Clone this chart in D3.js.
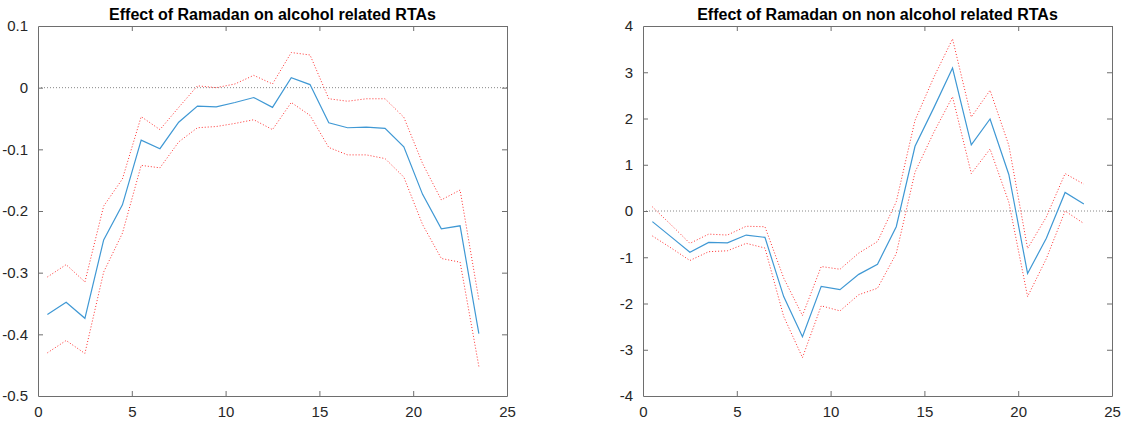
<!DOCTYPE html>
<html>
<head>
<meta charset="utf-8">
<script src="https://cdn.jsdelivr.net/npm/d3@7"></script>
<style>
  body { margin: 0; background: #fff; }
  text { font-family: "Liberation Sans", Arial, sans-serif; }
</style>
</head>
<body>
<div id="chart"></div>
<script>
// hours (bin centres)
var hours = d3.range(24).map(function (i) { return i + 0.5; });

// alcohol related RTAs
var alcMean = [-0.368, -0.348, -0.374, -0.247, -0.190, -0.085, -0.099, -0.056, -0.030, -0.031, -0.024, -0.016,
               -0.032, 0.016, 0.005, -0.057, -0.065, -0.064, -0.066, -0.096, -0.173, -0.229, -0.224, -0.399];
var alcUpper = [-0.307, -0.287, -0.315, -0.192, -0.148, -0.047, -0.068, -0.032, 0.003, 0.000, 0.006, 0.020,
                0.006, 0.057, 0.053, -0.018, -0.022, -0.018, -0.018, -0.048, -0.123, -0.182, -0.166, -0.344];
var alcLower = [-0.430, -0.410, -0.431, -0.299, -0.236, -0.126, -0.130, -0.088, -0.065, -0.063, -0.058, -0.052,
                -0.068, -0.024, -0.045, -0.097, -0.109, -0.109, -0.115, -0.145, -0.222, -0.277, -0.283, -0.452];

// non alcohol related RTAs
var nonMean = [-0.23, -0.56, -0.89, -0.68, -0.69, -0.52, -0.57, -1.85, -2.72, -1.63, -1.70, -1.37,
               -1.15, -0.34, 1.40, 2.23, 3.09, 1.43, 1.99, 0.79, -1.35, -0.59, 0.40, 0.15];
var nonUpper = [0.09, -0.30, -0.70, -0.50, -0.52, -0.33, -0.34, -1.45, -2.26, -1.20, -1.26, -0.91,
                -0.66, 0.20, 1.96, 2.89, 3.72, 2.03, 2.61, 1.42, -0.81, -0.13, 0.81, 0.58];
var nonLower = [-0.54, -0.80, -1.07, -0.88, -0.86, -0.70, -0.80, -2.28, -3.17, -2.05, -2.16, -1.81,
                -1.67, -0.92, 0.84, 1.70, 2.47, 0.81, 1.34, 0.19, -1.85, -1.03, 0.00, -0.27];

var xTicks = [0, 5, 10, 15, 20, 25];
var alcTicks = [-0.5, -0.4, -0.3, -0.2, -0.1, 0, 0.1];
var nonTicks = [-4, -3, -2, -1, 0, 1, 2, 3, 4];

var W = 1124, H = 424;
var svg = d3.select("#chart").append("svg").attr("width", W).attr("height", H);

var axisCol = "#6e6e6e";
var textCol = "#262626";
var tickLen = 5;

function panel(left, right, title, yDomain, yTicks, mean, upper, lower, fmt) {
  var top = 26, bottom = 396;
  var x = d3.scaleLinear().domain([0, 25]).range([left, right]);
  var y = d3.scaleLinear().domain(yDomain).range([bottom, top]);
  var g = svg.append("g");

  // zero reference line
  g.append("line")
    .attr("x1", x(0)).attr("x2", x(25))
    .attr("y1", y(0)).attr("y2", y(0))
    .attr("stroke", "#888").attr("stroke-width", 1)
    .attr("stroke-dasharray", "1,2");

  var line = d3.line()
    .x(function (d, i) { return x(hours[i]); })
    .y(function (d) { return y(d); });

  [upper, lower].forEach(function (s) {
    g.append("path").datum(s)
      .attr("d", line)
      .attr("fill", "none")
      .attr("stroke", "#ff3030")
      .attr("stroke-width", 1)
      .attr("stroke-dasharray", "1,2");
  });

  g.append("path").datum(mean)
    .attr("d", line)
    .attr("fill", "none")
    .attr("stroke", "#3f98d4")
    .attr("stroke-width", 1.2);

  // axes (box with inward ticks on all sides)
  var bottomAx = d3.axisBottom(x).tickValues(xTicks).tickSizeInner(-tickLen).tickSizeOuter(0).tickPadding(10);
  var topAx = d3.axisTop(x).tickValues(xTicks).tickSizeInner(-tickLen).tickSizeOuter(0).tickFormat("");
  var leftAx = d3.axisLeft(y).tickValues(yTicks).tickSizeInner(-tickLen).tickSizeOuter(0).tickPadding(10).tickFormat(fmt);
  var rightAx = d3.axisRight(y).tickValues(yTicks).tickSizeInner(-tickLen).tickSizeOuter(0).tickFormat("");

  var axes = [
    g.append("g").attr("transform", "translate(0," + bottom + ")").call(bottomAx),
    g.append("g").attr("transform", "translate(0," + top + ")").call(topAx),
    g.append("g").attr("transform", "translate(" + left + ",0)").call(leftAx),
    g.append("g").attr("transform", "translate(" + right + ",0)").call(rightAx)
  ];
  axes.forEach(function (a) {
    a.select(".domain").attr("stroke", axisCol);
    a.selectAll(".tick line").attr("stroke", axisCol);
    a.selectAll(".tick text")
      .attr("fill", textCol)
      .style("font-size", "15px")
      .style("font-family", "'Liberation Sans', Arial, sans-serif");
  });
  // drop inward ticks sitting on the box corners
  axes.forEach(function (a) {
    a.selectAll(".tick line").filter(function (d) {
      return d === 0 && (a === axes[0] || a === axes[1]) || d === yDomain[0] || d === yDomain[1];
    }).remove();
  });

  g.append("text")
    .attr("x", (left + right) / 2)
    .attr("y", 20)
    .attr("text-anchor", "middle")
    .attr("fill", "#000")
    .style("font-size", "16px")
    .style("font-weight", "bold")
    .text(title);
}

panel(38, 507, "Effect of Ramadan on alcohol related RTAs", [-0.5, 0.1], alcTicks,
      alcMean, alcUpper, alcLower, function (d) { return d === 0 ? "0" : d3.format(".1f")(d).replace("−", "-"); });
panel(643, 1112, "Effect of Ramadan on non alcohol related RTAs", [-4, 4], nonTicks,
      nonMean, nonUpper, nonLower, function (d) { return String(d); });
</script>
</body>
</html>
